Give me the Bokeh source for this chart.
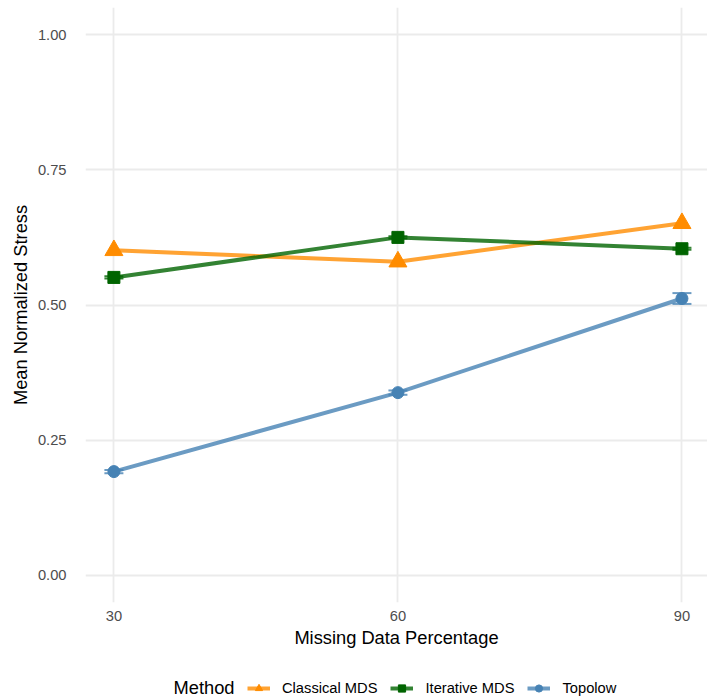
from bokeh.plotting import figure
from bokeh.layouts import column
from bokeh.models import (ColumnDataSource, Legend, LegendItem, Whisker, TeeHead,
                          FixedTicker, Range1d, Label)
from bokeh.embed import file_html
from bokeh.resources import INLINE

# ---- data ----
missing_pct = [30, 60, 90]
classical = [0.601, 0.580, 0.651]
iterative = [0.551, 0.625, 0.604]
iterative_err = [0.002, 0.002, 0.002]
topolow = [0.192, 0.338, 0.512]
topolow_err = [0.003, 0.004, 0.010]
methods = ["Classical MDS", "Iterative MDS", "Topolow"]
markers = ["triangle", "square", "circle"]
marker_sizes = [18, 12, 12]
legend_marker_sizes = [11, 8, 9]
y_ticks = [0.0, 0.25, 0.5, 0.75, 1.0]
y_tick_labels = ["0.00", "0.25", "0.50", "0.75", "1.00"]
x_ticks = [30, 60, 90]

FONT = "Liberation Sans"
colors = {"Classical MDS": "#FF8C00", "Iterative MDS": "#006400", "Topolow": "#4682B4"}

p = figure(width=707, height=652, output_backend="svg", toolbar_location=None,
           x_range=Range1d(27, 92.7), y_range=Range1d(-0.05, 1.05),
           min_border_left=85, min_border_right=0, min_border_top=7,
           min_border_bottom=50)
p.outline_line_color = None
p.background_fill_color = "white"
p.border_fill_color = "white"

def add_series(name, vals, err, marker, size):
    c = colors[name]
    src = ColumnDataSource(dict(x=missing_pct, y=vals))
    p.line("x", "y", source=src, line_color=c, line_alpha=0.8, line_width=4)
    if err is not None:
        esrc = ColumnDataSource(dict(x=missing_pct,
                                     lo=[v - e for v, e in zip(vals, err)],
                                     hi=[v + e for v, e in zip(vals, err)]))
        w = Whisker(source=esrc, base="x", lower="lo", upper="hi",
                    line_color=c, line_alpha=0.8, line_width=2,
                    lower_head=TeeHead(size=19, line_color=c, line_alpha=0.8, line_width=2),
                    upper_head=TeeHead(size=19, line_color=c, line_alpha=0.8, line_width=2))
        p.add_layout(w)
    p.scatter("x", "y", source=src, marker=marker, size=size,
              fill_color=c, line_color=c)

add_series("Classical MDS", classical, None, markers[0], marker_sizes[0])
add_series("Iterative MDS", iterative, iterative_err, markers[1], marker_sizes[1])
add_series("Topolow", topolow, topolow_err, markers[2], marker_sizes[2])

# axes
for ax in (p.xaxis[0], p.yaxis[0]):
    ax.axis_line_color = None
    ax.major_tick_line_color = None
    ax.minor_tick_line_color = None
    ax.major_tick_out = 0
    ax.major_tick_in = 0
    ax.minor_tick_out = 0
    ax.major_label_text_font = FONT
    ax.major_label_text_font_size = "14.7px"
    ax.major_label_text_color = "#4D4D4D"
    ax.axis_label_text_font = FONT
    ax.axis_label_text_font_size = "18.3px"
    ax.axis_label_text_font_style = "normal"
    ax.axis_label_text_color = "black"

p.xaxis.ticker = FixedTicker(ticks=x_ticks)
p.yaxis.ticker = FixedTicker(ticks=y_ticks)
p.yaxis.major_label_overrides = {t: l for t, l in zip(y_ticks, y_tick_labels)}
p.xaxis.axis_label = "Missing Data Percentage"
p.yaxis.axis_label = "Mean Normalized Stress"
p.xaxis.major_label_standoff = 8
p.xaxis.axis_label_standoff = 3
p.yaxis.major_label_standoff = 19
p.yaxis.axis_label_standoff = 4

p.xgrid.grid_line_color = "#EBEBEB"
p.ygrid.grid_line_color = "#EBEBEB"
p.xgrid.grid_line_width = 1.8
p.ygrid.grid_line_width = 1.8

# ---- legend strip (frame aligned with the main plot: page x 85..707) ----
lg = figure(width=707, height=45, output_backend="svg", toolbar_location=None,
            x_range=Range1d(85, 707), y_range=Range1d(0, 45),
            min_border_left=85, min_border_right=0, min_border_top=0,
            min_border_bottom=0, x_axis_type=None, y_axis_type=None)
lg.outline_line_color = None
lg.xgrid.visible = False
lg.ygrid.visible = False
lg.background_fill_color = "white"
lg.border_fill_color = "white"

items = []
for name, mk, sz in zip(methods, markers, legend_marker_sizes):
    c = colors[name]
    hidden = ColumnDataSource(dict(x=[-1000], y=[-1000]))
    r1 = lg.line("x", "y", source=hidden, line_color=c, line_alpha=0.8, line_width=4)
    r2 = lg.scatter("x", "y", source=hidden, marker=mk, size=sz,
                    fill_color=c, line_color=c)
    items.append(LegendItem(label=name, renderers=[r1, r2]))

legend = Legend(items=items, orientation="horizontal", location=(162, 0),
                label_text_font=FONT, label_text_font_size="14.7px",
                label_text_color="black",
                border_line_color=None, background_fill_alpha=0,
                glyph_width=23, glyph_height=18, spacing=13, label_standoff=12,
                margin=0, padding=0)
lg.add_layout(legend, "center")

lg.add_layout(Label(x=173, y=10, text="Method", text_font=FONT,
                    text_font_size="18.3px", text_color="black",
                    text_baseline="middle", text_align="left"))

layout = column(p, lg, spacing=0)
open("out.html", "w").write(file_html(layout, INLINE))
